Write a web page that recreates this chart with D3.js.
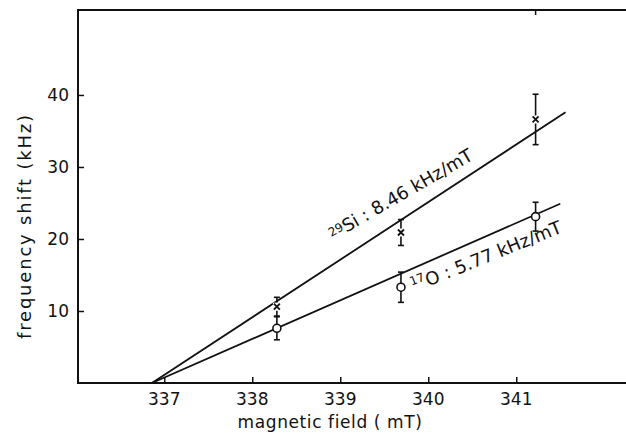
<!DOCTYPE html>
<html>
<head>
<meta charset="utf-8">
<script src="https://cdn.jsdelivr.net/npm/d3@7"></script>
<style>
body { margin: 0; background: #fff; }
svg text { font-family: "DejaVu Sans", sans-serif; fill: #111; }
</style>
</head>
<body>
<svg width="626" height="438"></svg>
<script>
// values
var xTicks = [337, 338, 339, 340, 341];
var yTicks = [10, 20, 30, 40];

var siField = [338.28, 339.69, 341.22];
var siShift = [10.6, 20.9, 36.6];
var siErr = [1.3, 1.8, 3.5];

var oField = [338.28, 339.69, 341.22];
var oShift = [7.6, 13.3, 23.1];
var oErr = [1.6, 2.1, 2.0];

// fitted lines: [field, shift] at start and end
var siFit = [[336.86, 0], [341.56, 37.6]];
var oFit = [[336.86, 0], [341.5, 24.9]];

const svg = d3.select("svg");
var x = d3.scaleLinear().domain([336.02, 342.27]).range([78, 628]);
var y = d3.scaleLinear().domain([0, 51.8]).range([383, 10]);

var ink = "#111";

// frame
svg.append("path")
	.attr("d", "M" + x.range()[1] + "," + y(51.8) + "H" + x(336.02) + "V" + y(0) + "H" + x.range()[1])
	.attr("fill", "none")
	.attr("stroke", ink)
	.attr("stroke-width", 2);

// x axis ticks (inside)
var xAxis = d3.axisTop(x).tickValues(xTicks).tickSize(6).tickFormat("");
var gx = svg.append("g").attr("transform", "translate(0," + y(0) + ")").call(xAxis);
gx.select(".domain").remove();
gx.selectAll("line").attr("stroke", ink).attr("stroke-width", 1.5);
svg.selectAll(".xlab").data(xTicks).enter().append("text")
	.attr("x", d => x(d))
	.attr("y", 405)
	.attr("text-anchor", "middle")
	.attr("font-size", 17)
	.text(d => d);

// y axis ticks (inside)
var yAxis = d3.axisRight(y).tickValues(yTicks).tickSize(6).tickFormat("");
var gy = svg.append("g").attr("transform", "translate(" + x(336.02) + ",0)").call(yAxis);
gy.select(".domain").remove();
gy.selectAll("line").attr("stroke", ink).attr("stroke-width", 1.5);
svg.selectAll(".ylab").data(yTicks).enter().append("text")
	.attr("x", 69)
	.attr("y", d => y(d) + 6)
	.attr("text-anchor", "end")
	.attr("font-size", 17)
	.text(d => d);

// small tick on top edge
svg.append("line")
	.attr("x1", x(341.22)).attr("x2", x(341.22))
	.attr("y1", y(51.8)).attr("y2", y(51.8) + 5)
	.attr("stroke", ink).attr("stroke-width", 1.5);

// axis titles
svg.append("text")
	.attr("x", 330)
	.attr("y", 428)
	.attr("text-anchor", "middle")
	.attr("font-size", 17)
	.attr("letter-spacing", 0.6)
	.text("magnetic field ( mT)");

svg.append("text")
	.attr("transform", "translate(31,226) rotate(-90)")
	.attr("text-anchor", "middle")
	.attr("font-size", 18)
	.attr("letter-spacing", 1.8)
	.text("frequency shift (kHz)");

// fitted lines
var line = d3.line().x(d => x(d[0])).y(d => y(d[1]));
[siFit, oFit].forEach(function(f) {
	svg.append("path")
		.attr("d", line(f))
		.attr("fill", "none")
		.attr("stroke", ink)
		.attr("stroke-width", 1.8);
});

// error bars
function errBars(fx, fy, fe) {
	fx.forEach(function(v, i) {
		var g = svg.append("g").attr("stroke", ink).attr("stroke-width", 1.6);
		g.append("line").attr("x1", x(v)).attr("x2", x(v)).attr("y1", y(fy[i] + fe[i])).attr("y2", y(fy[i] - fe[i]));
		g.append("line").attr("x1", x(v) - 3).attr("x2", x(v) + 3).attr("y1", y(fy[i] + fe[i])).attr("y2", y(fy[i] + fe[i]));
		g.append("line").attr("x1", x(v) - 3).attr("x2", x(v) + 3).attr("y1", y(fy[i] - fe[i])).attr("y2", y(fy[i] - fe[i]));
	});
}
errBars(siField, siShift, siErr);
errBars(oField, oShift, oErr);

// x markers for Si
siField.forEach(function(v, i) {
	var cx = x(v), cy = y(siShift[i]);
	svg.append("rect").attr("x", cx - 4).attr("y", cy - 4).attr("width", 8).attr("height", 8).attr("fill", "#fff");
	svg.append("path")
		.attr("d", "M" + (cx - 3) + "," + (cy - 3) + "L" + (cx + 3) + "," + (cy + 3) + "M" + (cx + 3) + "," + (cy - 3) + "L" + (cx - 3) + "," + (cy + 3))
		.attr("stroke", ink).attr("stroke-width", 1.8);
});

// circles for O
oField.forEach(function(v, i) {
	svg.append("circle")
		.attr("cx", x(v)).attr("cy", y(oShift[i]))
		.attr("r", 4)
		.attr("fill", "#fff")
		.attr("stroke", ink)
		.attr("stroke-width", 1.6);
});

// line labels
var siLab = svg.append("text")
	.attr("transform", "translate(" + x(338.92) + "," + y(19.8) + ") rotate(-30)")
	.attr("font-size", 18);
siLab.append("tspan").attr("font-size", 12).attr("dy", -4).text("29");
siLab.append("tspan").attr("dy", 4).text("Si : 8.46 kHz/mT");

var oLab = svg.append("text")
	.attr("transform", "translate(" + x(339.84) + "," + y(12.6) + ") rotate(-22)")
	.attr("font-size", 18);
oLab.append("tspan").attr("font-size", 12).attr("dy", -7).text("17");
oLab.append("tspan").attr("dy", 7).text("O : 5.77 kHz/mT");
</script>
</body>
</html>
